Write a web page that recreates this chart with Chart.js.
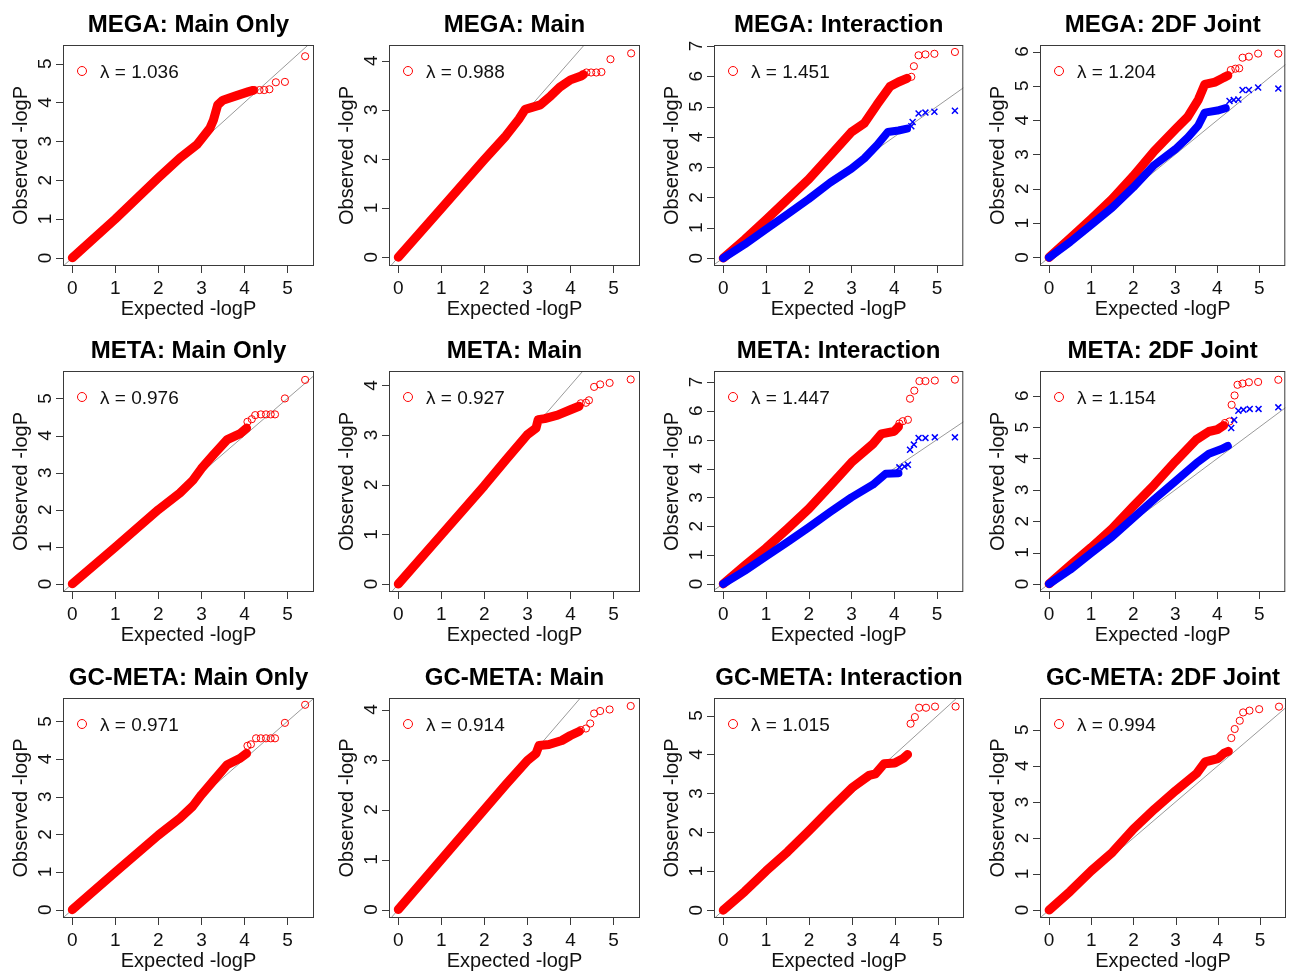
<!DOCTYPE html>
<html>
<head>
<meta charset="utf-8">
<script src="https://cdn.jsdelivr.net/npm/chart.js@4.4.0/dist/chart.umd.min.js"></script>
<style>
  html, body { margin: 0; padding: 0; background: #fff; }
  #grid { position: relative; width: 1291px; height: 973px; overflow: hidden; background: #fff; }
  #grid canvas { position: absolute; }
</style>
</head>
<body>
<div id="grid"></div>
<script>
// ---- data: [expected -logP, observed -logP] ----
const panelTitles = [
  'MEGA: Main Only', 'MEGA: Main', 'MEGA: Interaction', 'MEGA: 2DF Joint',
  'META: Main Only', 'META: Main', 'META: Interaction', 'META: 2DF Joint',
  'GC-META: Main Only', 'GC-META: Main', 'GC-META: Interaction', 'GC-META: 2DF Joint'
];
const lambdas = ['1.036', '0.988', '1.451', '1.204', '0.976', '0.927', '1.447', '1.154', '0.971', '0.914', '1.015', '0.994'];
const xTicks = [0, 1, 2, 3, 4, 5];
const yTickMax = [5, 4, 7, 6, 5, 4, 7, 6, 5, 4, 5, 5];
const yLimits = [
  [-0.21, 5.48], [-0.18, 4.32], [-0.26, 7.03], [-0.25, 6.19],
  [-0.22, 5.74], [-0.16, 4.29], [-0.28, 7.38], [-0.26, 6.79],
  [-0.22, 5.62], [-0.17, 4.23], [-0.2, 5.45], [-0.22, 5.88]
];
const refLine = [-1, 9]; // y = x

// MEGA
const megaMainOnlyBand = [[0,0],[1,1.0],[2,2.06],[2.5,2.57],[2.9,2.92],[3.2,3.34],[3.28,3.55],[3.38,3.94],[3.5,4.06],[3.8,4.17],[4.1,4.28],[4.2,4.31]];
const megaMainOnlyTail = [[4.23,4.32],[4.35,4.32],[4.46,4.32],[4.58,4.34],[4.73,4.52],[4.94,4.53],[5.41,5.19]];
const megaMainBand = [[0,0],[1,0.99],[2,1.99],[2.5,2.47],[2.8,2.81],[2.95,3.01],[3.3,3.1],[3.55,3.29],[3.75,3.46],[4.0,3.61],[4.25,3.69],[4.3,3.72]];
const megaMainTail = [[4.37,3.76],[4.48,3.76],[4.6,3.76],[4.72,3.77],[4.93,4.03],[5.41,4.15]];
const megaIntRedBand = [[0,0],[0.5,0.61],[1,1.26],[1.5,1.93],[2,2.6],[2.5,3.38],[3,4.16],[3.3,4.45],[3.6,5.07],[3.9,5.66],[4.1,5.81],[4.3,5.93]];
const megaIntRedTail = [[4.4,5.98],[4.46,6.33],[4.57,6.69],[4.73,6.72],[4.94,6.74],[5.42,6.8]];
const megaIntBlueBand = [[0,0],[0.5,0.45],[1,0.95],[1.5,1.45],[2,1.95],[2.5,2.49],[3,2.95],[3.3,3.29],[3.6,3.73],[3.85,4.16],[4.1,4.21],[4.3,4.27]];
const megaIntBlueTail = [[4.4,4.35],[4.43,4.49],[4.57,4.77],[4.73,4.8],[4.94,4.83],[5.42,4.86]];
const megaJointRedBand = [[0,0],[0.5,0.56],[1,1.12],[1.5,1.7],[2,2.37],[2.5,3.1],[3,3.73],[3.3,4.1],[3.55,4.6],[3.7,5.04],[3.95,5.11],[4.15,5.24],[4.25,5.3]];
const megaJointRedTail = [[4.32,5.46],[4.43,5.5],[4.52,5.51],[4.6,5.82],[4.75,5.85],[4.97,5.94],[5.45,5.94]];
const megaJointBlueBand = [[0,0],[0.5,0.45],[1,0.95],[1.5,1.45],[2,2.04],[2.5,2.69],[3,3.15],[3.3,3.5],[3.55,3.85],[3.7,4.22],[4.0,4.28],[4.2,4.35]];
const megaJointBlueTail = [[4.29,4.56],[4.39,4.59],[4.5,4.6],[4.6,4.88],[4.75,4.88],[4.97,4.95],[5.45,4.92]];

// META
const metaMainOnlyBand = [[0,0],[1,0.99],[2,2.0],[2.5,2.45],[2.8,2.79],[3.0,3.11],[3.3,3.51],[3.6,3.89],[3.9,4.05],[4.05,4.2]];
const metaMainOnlyTail = [[4.07,4.37],[4.17,4.44],[4.25,4.55],[4.38,4.57],[4.5,4.57],[4.61,4.57],[4.71,4.57],[4.94,5.0],[5.41,5.5]];
const metaMainBand = [[0,0],[1,0.99],[2,1.98],[2.5,2.5],[3.0,3.01],[3.2,3.14],[3.25,3.31],[3.4,3.33],[3.7,3.4],[4.0,3.51],[4.2,3.58]];
const metaMainTail = [[4.24,3.64],[4.36,3.65],[4.43,3.7],[4.55,3.97],[4.69,4.02],[4.91,4.05],[5.4,4.12]];
const metaIntRedBand = [[0,0],[0.5,0.63],[1,1.24],[1.5,1.91],[2,2.6],[2.5,3.4],[3,4.21],[3.5,4.85],[3.7,5.2],[4.0,5.29],[4.1,5.45]];
const metaIntRedTail = [[4.12,5.56],[4.2,5.64],[4.32,5.69],[4.37,6.42],[4.47,6.7],[4.59,7.03],[4.73,7.03],[4.95,7.05],[5.42,7.08]];
const metaIntBlueBand = [[0,0],[0.5,0.45],[1,0.95],[1.5,1.45],[2,1.96],[2.5,2.49],[3,3.0],[3.5,3.44],[3.8,3.82],[4.1,3.84]];
const metaIntBlueTail = [[4.12,4.04],[4.24,4.07],[4.32,4.13],[4.37,4.65],[4.46,4.83],[4.57,5.06],[4.73,5.06],[4.95,5.08],[5.42,5.08]];
const metaJointRedBand = [[0,0],[0.5,0.59],[1,1.16],[1.5,1.76],[2,2.47],[2.5,3.16],[3,3.9],[3.5,4.6],[3.8,4.86],[4.0,4.92],[4.15,5.05]];
const metaJointRedTail = [[4.18,5.13],[4.29,5.18],[4.34,5.71],[4.41,6.01],[4.48,6.35],[4.6,6.39],[4.75,6.43],[4.97,6.44],[5.45,6.51]];
const metaJointBlueBand = [[0,0],[0.5,0.45],[1,0.98],[1.5,1.5],[2,2.1],[2.5,2.7],[3,3.27],[3.5,3.85],[3.8,4.15],[4.1,4.3],[4.25,4.4]];
const metaJointBlueTail = [[4.33,4.97],[4.4,5.23],[4.5,5.52],[4.62,5.55],[4.77,5.58],[4.98,5.58],[5.45,5.63]];

// GC-META
const gcMainOnlyBand = [[0,0],[1,1.0],[2,1.98],[2.5,2.43],[2.8,2.75],[3.0,3.05],[3.3,3.45],[3.6,3.85],[3.9,4.02],[4.05,4.15]];
const gcMainOnlyTail = [[4.07,4.35],[4.15,4.39],[4.27,4.55],[4.38,4.55],[4.5,4.55],[4.61,4.55],[4.71,4.55],[4.94,4.96],[5.41,5.44]];
const gcMainBand = [[0,0],[1,1.0],[2,2.0],[2.5,2.5],[3.0,2.98],[3.2,3.12],[3.27,3.28],[3.5,3.3],[3.8,3.38],[4.0,3.48],[4.2,3.56]];
const gcMainTail = [[4.24,3.59],[4.36,3.62],[4.46,3.72],[4.55,3.92],[4.69,3.97],[4.91,4.0],[5.4,4.07]];
const gcIntBand = [[0,0],[0.5,0.48],[1,1.01],[1.5,1.5],[2,2.04],[2.5,2.6],[3,3.14],[3.4,3.46],[3.55,3.5],[3.75,3.76],[4.0,3.78],[4.2,3.9],[4.3,4.0]];
const gcIntTail = [[4.37,4.79],[4.47,4.96],[4.57,5.2],[4.73,5.2],[4.94,5.23],[5.42,5.23]];
const gcJointBand = [[0,0],[0.5,0.52],[1,1.09],[1.5,1.6],[2,2.25],[2.5,2.8],[3,3.31],[3.5,3.79],[3.7,4.11],[4.0,4.2],[4.15,4.35],[4.25,4.4]];
const gcJointTail = [[4.32,4.77],[4.4,5.02],[4.52,5.25],[4.6,5.48],[4.75,5.53],[4.98,5.57],[5.45,5.64]];

// red series / blue series per panel (null = no blue series)
const redBands = [megaMainOnlyBand, megaMainBand, megaIntRedBand, megaJointRedBand, metaMainOnlyBand, metaMainBand, metaIntRedBand, metaJointRedBand, gcMainOnlyBand, gcMainBand, gcIntBand, gcJointBand];
const redTails = [megaMainOnlyTail, megaMainTail, megaIntRedTail, megaJointRedTail, metaMainOnlyTail, metaMainTail, metaIntRedTail, metaJointRedTail, gcMainOnlyTail, gcMainTail, gcIntTail, gcJointTail];
const blueBands = [null, null, megaIntBlueBand, megaJointBlueBand, null, null, metaIntBlueBand, metaJointBlueBand, null, null, null, null];
const blueTails = [null, null, megaIntBlueTail, megaJointBlueTail, null, null, metaIntBlueTail, metaJointBlueTail, null, null, null, null];

// ---- layout ----
const colLeft = [63, 389, 714, 1040];
const rowTop = [45, 371, 698];
const rowBottom = [266, 592, 918];
const boxW = 251;
const RED = '#ff0000', BLUE = '#0000ff';
const FONT = '"Liberation Sans", Arial, Helvetica, sans-serif';

const toXY = pts => pts.map(([x, y]) => ({ x, y }));

// R-style axes, titles and lambda legend, positioned with the chart's scales
const rStyle = {
  id: 'rStyle',
  afterDatasetsDraw(chart, args, opts) {
    const { ctx, chartArea: a, scales: { x, y } } = chart;
    ctx.save();
    ctx.strokeStyle = '#3a3a3a';
    ctx.lineWidth = 1;
    ctx.strokeRect(a.left + 0.5, a.top + 0.5, a.right - a.left - 1, a.bottom - a.top - 1);

    // tick marks
    ctx.beginPath();
    xTicks.forEach(v => {
      const px = Math.round(x.getPixelForValue(v)) + 0.5;
      ctx.moveTo(px, a.bottom); ctx.lineTo(px, a.bottom + 7);
    });
    opts.yTicks.forEach(v => {
      const py = Math.round(y.getPixelForValue(v)) + 0.5;
      ctx.moveTo(a.left, py); ctx.lineTo(a.left - 7, py);
    });
    ctx.stroke();

    ctx.fillStyle = '#111';
    ctx.font = '19px ' + FONT;
    ctx.textAlign = 'center';
    ctx.textBaseline = 'alphabetic';
    xTicks.forEach(v => ctx.fillText(String(v), x.getPixelForValue(v), a.bottom + 28));
    opts.yTicks.forEach(v => {
      ctx.save();
      ctx.translate(a.left - 12, y.getPixelForValue(v));
      ctx.rotate(-Math.PI / 2);
      ctx.fillText(String(v), 0, 0);
      ctx.restore();
    });

    // axis titles
    ctx.font = '20px ' + FONT;
    ctx.fillText('Expected -logP', (a.left + a.right) / 2, a.bottom + 49);
    ctx.save();
    ctx.translate(a.left - 36, (a.top + a.bottom) / 2);
    ctx.rotate(-Math.PI / 2);
    ctx.fillText('Observed -logP', 0, 0);
    ctx.restore();

    // panel title
    ctx.font = 'bold 24px ' + FONT;
    ctx.fillStyle = '#000';
    ctx.fillText(opts.title, (a.left + a.right) / 2, a.top - 13);

    // legend
    ctx.strokeStyle = RED;
    ctx.beginPath();
    ctx.arc(a.left + 19, a.top + 26, 4.5, 0, Math.PI * 2);
    ctx.stroke();
    ctx.fillStyle = '#111';
    ctx.font = '19px ' + FONT;
    ctx.textAlign = 'left';
    ctx.fillText('\u03bb = ' + opts.lambda, a.left + 37, a.top + 33);
    ctx.restore();
  }
};

const grid = document.getElementById('grid');

panelTitles.forEach((title, i) => {
  const row = Math.floor(i / 4), col = i % 4;
  const cLeft = col * 323, cTop = row * 325;
  const cW = col < 3 ? 323 : 1291 - cLeft;
  const cH = row < 2 ? 325 : 973 - cTop;

  const canvas = document.createElement('canvas');
  canvas.width = cW; canvas.height = cH;
  canvas.style.left = cLeft + 'px'; canvas.style.top = cTop + 'px';
  canvas.style.width = cW + 'px'; canvas.style.height = cH + 'px';
  grid.appendChild(canvas);

  const yTicks = [];
  for (let t = 0; t <= yTickMax[i]; t++) yTicks.push(t);

  const datasets = [
    {
      data: refLine.map(v => ({ x: v, y: v })),
      showLine: true, borderColor: '#9a9a9a', borderWidth: 1,
      pointRadius: 0, clip: 0, order: 6
    },
    {
      data: toXY(redBands[i]),
      showLine: true, borderColor: RED, borderWidth: 9,
      borderJoinStyle: 'round', borderCapStyle: 'round',
      pointRadius: 0, order: 5
    },
    {
      data: toXY(redTails[i]),
      showLine: false, pointStyle: 'circle', pointRadius: 3.6,
      pointBorderWidth: 1, pointBorderColor: RED, pointBackgroundColor: 'rgba(0,0,0,0)',
      order: 4
    }
  ];
  if (blueBands[i]) {
    datasets.push({
      data: toXY(blueBands[i]),
      showLine: true, borderColor: BLUE, borderWidth: 8,
      borderJoinStyle: 'round', borderCapStyle: 'round',
      pointRadius: 0, order: 3
    });
    datasets.push({
      data: toXY(blueTails[i]),
      showLine: false, pointStyle: 'crossRot', pointRadius: 4.2,
      pointBorderWidth: 1.5, pointBorderColor: BLUE,
      order: 2
    });
  }

  new Chart(canvas, {
    type: 'scatter',
    data: { datasets },
    options: {
      responsive: false,
      animation: false,
      devicePixelRatio: 1,
      events: [],
      layout: {
        padding: {
          left: colLeft[col] - cLeft,
          top: rowTop[row] - cTop,
          right: Math.max(0, cW - (colLeft[col] + boxW - cLeft)),
          bottom: cH - (rowBottom[row] - cTop)
        }
      },
      scales: {
        x: { type: 'linear', min: -0.216, max: 5.616, display: false },
        y: { type: 'linear', min: yLimits[i][0], max: yLimits[i][1], display: false }
      },
      plugins: {
        legend: { display: false },
        tooltip: { enabled: false },
        rStyle: { title, lambda: lambdas[i], yTicks }
      }
    },
    plugins: [rStyle]
  });
});
</script>
</body>
</html>
